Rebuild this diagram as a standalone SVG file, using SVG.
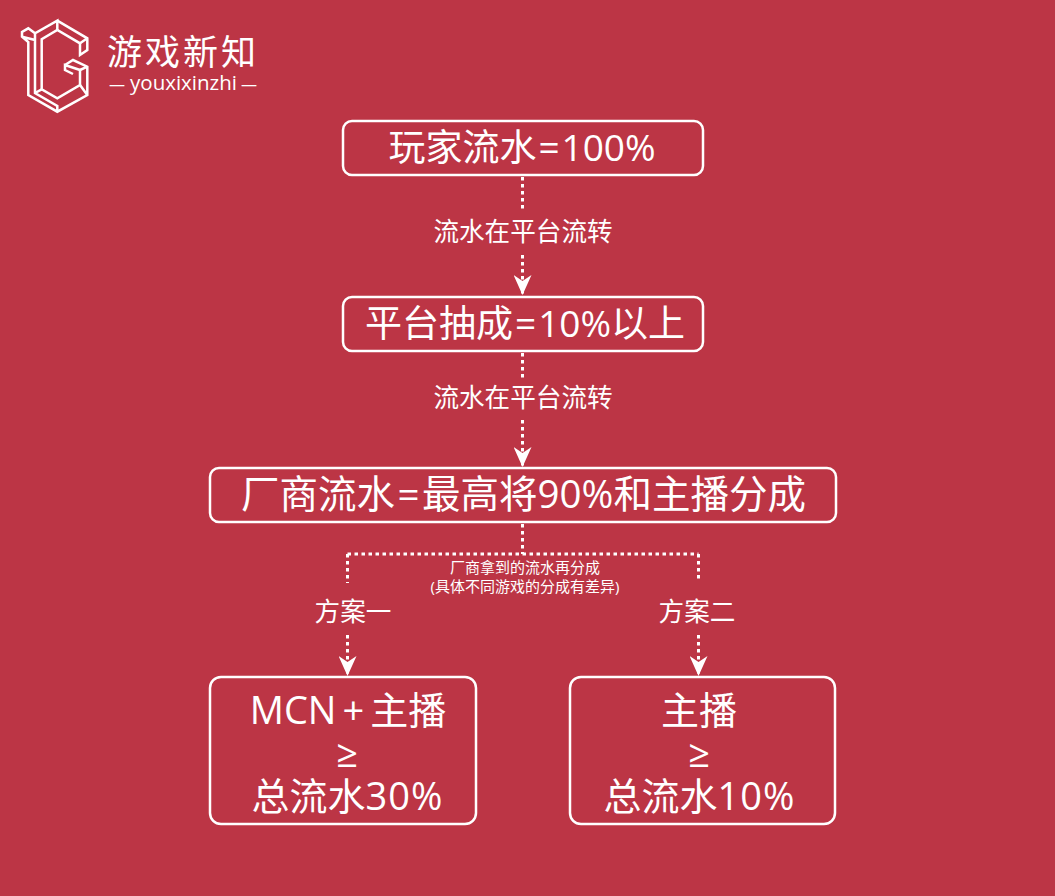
<svg xmlns="http://www.w3.org/2000/svg" width="1055" height="896" viewBox="0 0 1055 896">
<style>
text{font-family:"Open Sans","Noto Sans CJK SC",sans-serif;fill:#fff;text-anchor:middle;font-weight:400}
.box{fill:none;stroke:#fff;stroke-width:2.5}
.big{font-size:37px}
.wide{font-size:38.5px}
.bot{font-size:38px}
.lab{font-size:25.6px}
.sm{font-size:15px}
.d{fill:none;stroke:#fff;stroke-width:3;stroke-dasharray:3.500 3.500}
.logo{fill:none;stroke:#fff;stroke-width:2.500;stroke-linejoin:miter}
</style>
<defs><marker id="a" markerUnits="userSpaceOnUse" markerWidth="20" markerHeight="18" refX="20" refY="9" orient="auto" viewBox="0 0 20 18"><path d="M0 0L6 9L0 18L20 9Z" fill="#fff"/></marker></defs>
<rect width="1055" height="896" fill="#bc3545"/>
<g id="logo">
<path class="logo" d="M57.300 20.700L87.300 38.300V50L80 55V43.300L57.300 30L41.700 39.300V89.300L57.300 98.300L80 85V70L65 65V70L73 74"/>
<path class="logo" d="M65 65L73 60L87.300 66.700V95L57.300 111.700L28.300 95V42L22 36.700V32L28.300 28.300L35 33.300L57.300 20.700V30M35 33.300V93L57.300 106V111.700M22 36.700L35 40M41.700 89.300L35 93M80 85L87.300 95M80 43.300L87.300 38.300M80 70L87.300 66.700"/>
<text x="183" y="65" style="font-size:35px;letter-spacing:3px">游戏新知</text>
<text x="183.500" y="90" style="font-size:20.500px"><tspan x="117" style="font-size:16px">—</tspan><tspan x="183.500">youxixinzhi</tspan><tspan x="249" style="font-size:16px">—</tspan></text>
</g>
<g id="connectors">
<path class="d" d="M522.500 177V209M522.500 255V295" marker-end="url(#a)"/>
<path class="d" d="M522.500 353V380M522.500 420V467" marker-end="url(#a)"/>
<path class="d" d="M522.500 524V554M347.500 554H698.500M347.500 554V583M698.500 554V581"/>
<path class="d" d="M347.500 635V676" marker-end="url(#a)"/>
<path class="d" d="M698.500 635V676" marker-end="url(#a)"/>
</g>
<g id="n1"><rect class="box" x="343" y="121" width="360" height="54" rx="9"/><text class="big" x="522" y="161">玩家流水<tspan dx="2">=</tspan><tspan dx="2">100%</tspan></text></g>
<g id="n2"><rect class="box" x="343" y="297" width="360" height="54" rx="9"/><text class="big" x="525" y="337">平台抽成<tspan dx="2">=</tspan><tspan dx="2">10%</tspan>以上</text></g>
<g id="n3"><rect class="box" x="210" y="468" width="626" height="54" rx="9"/><text class="wide" x="523.500" y="508">厂商流水<tspan dx="2.500">=</tspan><tspan dx="2.500">最高将90%和主播分成</tspan></text></g>
<g id="n4"><rect class="box" x="210" y="677" width="266" height="147" rx="11"/><text class="bot" x="348" y="724">MCN<tspan dx="6">+</tspan><tspan dx="6">主播</tspan></text><text class="bot" x="347" y="767">≥</text><text class="bot" x="347.500" y="810">总流水<tspan style="letter-spacing:1px">30%</tspan></text></g>
<g id="n5"><rect class="box" x="570" y="677" width="265" height="147" rx="11"/><text class="bot" x="699" y="724">主播</text><text class="bot" x="699" y="767">≥</text><text class="bot" x="699.500" y="810">总流水<tspan style="letter-spacing:1px">10%</tspan></text></g>
<g id="labels">
<text class="lab" x="523" y="241">流水在平台流转</text>
<text class="lab" x="523" y="407">流水在平台流转</text>
<text class="sm" x="525" y="573">厂商拿到的流水再分成</text>
<text class="sm" x="525" y="592">(具体不同游戏的分成有差异)</text>
<text class="lab" x="353" y="621">方案一</text>
<text class="lab" x="697" y="621">方案二</text>
</g>
</svg>
